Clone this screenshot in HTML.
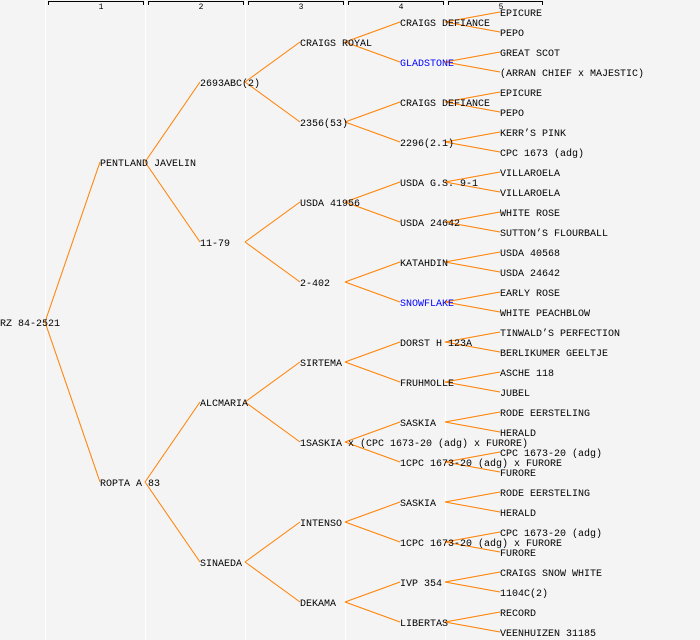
<!DOCTYPE html>
<html><head><meta charset="utf-8"><style>
html,body{margin:0;padding:0;background:#f4f4f4;}
svg{display:block;}
text{font-family:"Liberation Mono",monospace;font-size:10px;fill:#000;}
.b{fill:#0000ff;}
</style></head><body>
<svg width="700" height="640" viewBox="0 0 700 640">
<rect width="700" height="640" fill="#f4f4f4"/>
<g stroke="#ffffff" stroke-width="1">
<line x1="45.5" y1="0" x2="45.5" y2="640"/><line x1="145.5" y1="0" x2="145.5" y2="640"/><line x1="245.5" y1="0" x2="245.5" y2="640"/><line x1="345.5" y1="0" x2="345.5" y2="640"/><line x1="445.5" y1="0" x2="445.5" y2="640"/>
</g>
<g stroke="#000" stroke-width="1" fill="none">
<path d="M48.5 5V1.5H143.5V5"/><path d="M148.5 5V1.5H243.5V5"/><path d="M248.5 5V1.5H343.5V5"/><path d="M348.5 5V1.5H443.5V5"/><path d="M448.5 5V1.5H542.5V5"/>
</g>
<g style="font-size:8px" text-anchor="middle">
<text x="101" y="9" style="font-size:8px">1</text><text x="201" y="9" style="font-size:8px">2</text><text x="301" y="9" style="font-size:8px">3</text><text x="401" y="9" style="font-size:8px">4</text><text x="501" y="9" style="font-size:8px">5</text>
</g>
<g stroke="#ff8000" stroke-width="1" fill="none">
<path d="M45 322L100 162M45 322L100 482"/>
<path d="M145 162L200 82M145 162L200 242M145 482L200 402M145 482L200 562"/>
<path d="M245 82L300 42M245 82L300 122M245 242L300 202M245 242L300 282M245 402L300 362M245 402L300 442M245 562L300 522M245 562L300 602"/>
<path d="M345 42L400 22M345 42L400 62M345 122L400 102M345 122L400 142M345 202L400 182M345 202L400 222M345 282L400 262M345 282L400 302M345 362L400 342M345 362L400 382M345 442L400 422M345 442L400 462M345 522L400 502M345 522L400 542M345 602L400 582M345 602L400 622"/>
<path d="M445 22L500 12M445 22L500 32M445 62L500 52M445 62L500 72M445 102L500 92M445 102L500 112M445 142L500 132M445 142L500 152M445 182L500 172M445 182L500 192M445 222L500 212M445 222L500 232M445 262L500 252M445 262L500 272M445 302L500 292M445 302L500 312M445 342L500 332M445 342L500 352M445 382L500 372M445 382L500 392M445 422L500 412M445 422L500 432M445 462L500 452M445 462L500 472M445 502L500 492M445 502L500 512M445 542L500 532M445 542L500 552M445 582L500 572M445 582L500 592M445 622L500 612M445 622L500 632"/>
</g>
<text x="0" y="326">RZ 84-2521</text>
<text x="100" y="166">PENTLAND JAVELIN</text>
<text x="100" y="486">ROPTA A 83</text>
<text x="200" y="86">2693ABC(2)</text>
<text x="200" y="246">11-79</text>
<text x="200" y="406">ALCMARIA</text>
<text x="200" y="566">SINAEDA</text>
<text x="300" y="46">CRAIGS ROYAL</text>
<text x="300" y="126">2356(53)</text>
<text x="300" y="206">USDA 41956</text>
<text x="300" y="286">2-402</text>
<text x="300" y="366">SIRTEMA</text>
<text x="300" y="446">1SASKIA x (CPC 1673-20 (adg) x FURORE)</text>
<text x="300" y="526">INTENSO</text>
<text x="300" y="606">DEKAMA</text>
<text x="400" y="26">CRAIGS DEFIANCE</text>
<text x="400" y="66" class="b">GLADSTONE</text>
<text x="400" y="106">CRAIGS DEFIANCE</text>
<text x="400" y="146">2296(2.1)</text>
<text x="400" y="186">USDA G.S. 9-1</text>
<text x="400" y="226">USDA 24642</text>
<text x="400" y="266">KATAHDIN</text>
<text x="400" y="306" class="b">SNOWFLAKE</text>
<text x="400" y="346">DORST H 123A</text>
<text x="400" y="386">FRUHMOLLE</text>
<text x="400" y="426">SASKIA</text>
<text x="400" y="466">1CPC 1673-20 (adg) x FURORE</text>
<text x="400" y="506">SASKIA</text>
<text x="400" y="546">1CPC 1673-20 (adg) x FURORE</text>
<text x="400" y="586">IVP 354</text>
<text x="400" y="626">LIBERTAS</text>
<text x="500" y="16">EPICURE</text>
<text x="500" y="36">PEPO</text>
<text x="500" y="56">GREAT SCOT</text>
<text x="500" y="76">(ARRAN CHIEF x MAJESTIC)</text>
<text x="500" y="96">EPICURE</text>
<text x="500" y="116">PEPO</text>
<text x="500" y="136">KERR’S PINK</text>
<text x="500" y="156">CPC 1673 (adg)</text>
<text x="500" y="176">VILLAROELA</text>
<text x="500" y="196">VILLAROELA</text>
<text x="500" y="216">WHITE ROSE</text>
<text x="500" y="236">SUTTON’S FLOURBALL</text>
<text x="500" y="256">USDA 40568</text>
<text x="500" y="276">USDA 24642</text>
<text x="500" y="296">EARLY ROSE</text>
<text x="500" y="316">WHITE PEACHBLOW</text>
<text x="500" y="336">TINWALD’S PERFECTION</text>
<text x="500" y="356">BERLIKUMER GEELTJE</text>
<text x="500" y="376">ASCHE 118</text>
<text x="500" y="396">JUBEL</text>
<text x="500" y="416">RODE EERSTELING</text>
<text x="500" y="436">HERALD</text>
<text x="500" y="456">CPC 1673-20 (adg)</text>
<text x="500" y="476">FURORE</text>
<text x="500" y="496">RODE EERSTELING</text>
<text x="500" y="516">HERALD</text>
<text x="500" y="536">CPC 1673-20 (adg)</text>
<text x="500" y="556">FURORE</text>
<text x="500" y="576">CRAIGS SNOW WHITE</text>
<text x="500" y="596">1104C(2)</text>
<text x="500" y="616">RECORD</text>
<text x="500" y="636">VEENHUIZEN 31185</text>
</svg>
</body></html>
